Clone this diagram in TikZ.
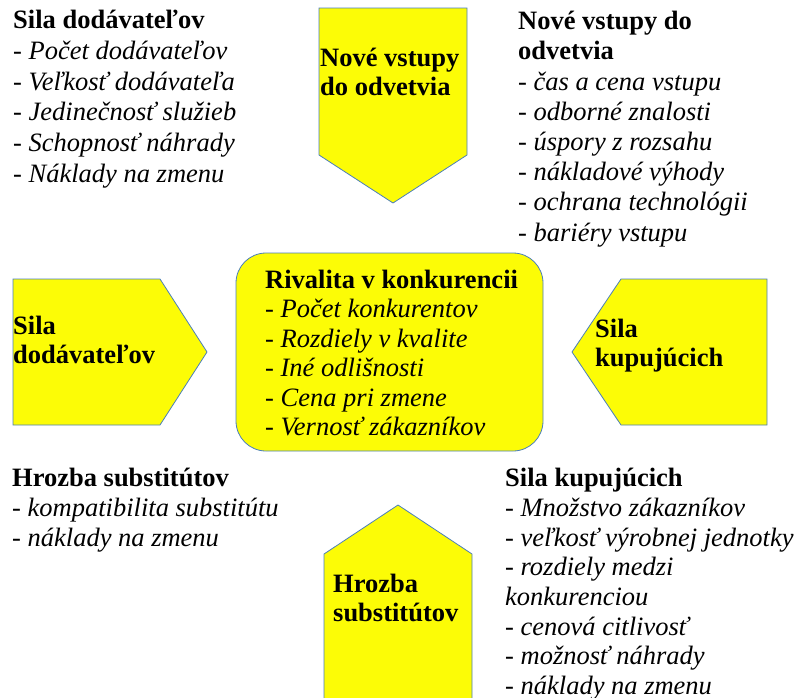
\documentclass[tikz,border=0pt]{standalone}
\usepackage{fontspec}
\setmainfont{Liberation Serif}
\definecolor{forcefill}{HTML}{FCFC06}
\definecolor{forceline}{HTML}{4A7EBB}
\newcommand{\itm}[1]{- \textit{#1}}

\begin{document}
\begin{tikzpicture}[x=1pt, y=-1pt,
  force/.style={fill=forcefill, draw=forceline, line width=0.8pt},
  block/.style={anchor=north west, inner sep=0pt, align=left,
    font=\fontsize{26.5}{30.2}\selectfont},
  inner/.style={block, font=\fontsize{26.5}{29}\selectfont\bfseries}]
\useasboundingbox (0,0) rectangle (801,697);

\draw[force] (319,8) -- (467,8) -- (467,155) -- (393,203) -- (319,155) -- cycle;
\draw[force] (13,279) -- (160,279) -- (207,352) -- (160,425) -- (13,425) -- cycle;
\draw[force] (767,279) -- (621,279) -- (572,352) -- (621,425) -- (767,425) -- cycle;
\draw[force] (324,699) -- (324,554) -- (398,505) -- (472,554) -- (472,699);
\draw[force, rounded corners=30] (236,253) rectangle (543,451);

\node[inner] (entrants) at (320,48) {Nové vstupy\\do odvetvia};
\node[inner] (suppliers) at (13,316) {Sila\\dodávateľov};
\node[inner] (buyers) at (595,319) {Sila\\kupujúcich};
\node[inner] (substitutes) at (333,574) {Hrozba\\substitútov};

\node[block, font=\fontsize{26.5}{29.4}\selectfont] (rivalry) at (265,270)
  {\textbf{Rivalita v konkurencii}\\\itm{Počet konkurentov}\\\itm{Rozdiely v kvalite}\\
   \itm{Iné odlišnosti}\\\itm{Cena pri zmene}\\\itm{Vernosť zákazníkov}};

\node[block, font=\fontsize{26.5}{30.7}\selectfont] (supplierlist) at (13,10)
  {\textbf{Sila dodávateľov}\\\itm{Počet dodávateľov}\\\itm{Veľkosť dodávateľa}\\
   \itm{Jedinečnosť služieb}\\\itm{Schopnosť náhrady}\\\itm{Náklady na zmenu}};
\node[block] (entrantlist) at (518,11)
  {\textbf{Nové vstupy do}\\\textbf{odvetvia}\\\itm{čas a cena vstupu}\\
   \itm{odborné znalosti}\\\itm{úspory z rozsahu}\\\itm{nákladové výhody}\\
   \itm{ochrana technológii}\\\itm{bariéry vstupu}};
\node[block, font=\fontsize{26.5}{29.8}\selectfont] (substitutelist) at (12,468)
  {\textbf{Hrozba substitútov}\\\itm{kompatibilita substitútu}\\\itm{náklady na zmenu}};
\node[block, font=\fontsize{26.5}{29.7}\selectfont] (buyerlist) at (505,468)
  {\textbf{Sila kupujúcich}\\\itm{Množstvo zákazníkov}\\\itm{veľkosť výrobnej jednotky}\\
   - \textit{rozdiely medzi}\\\textit{konkurenciou}\\\itm{cenová citlivosť}\\
   \itm{možnosť náhrady}\\\itm{náklady na zmenu}};
\end{tikzpicture}
\end{document}
